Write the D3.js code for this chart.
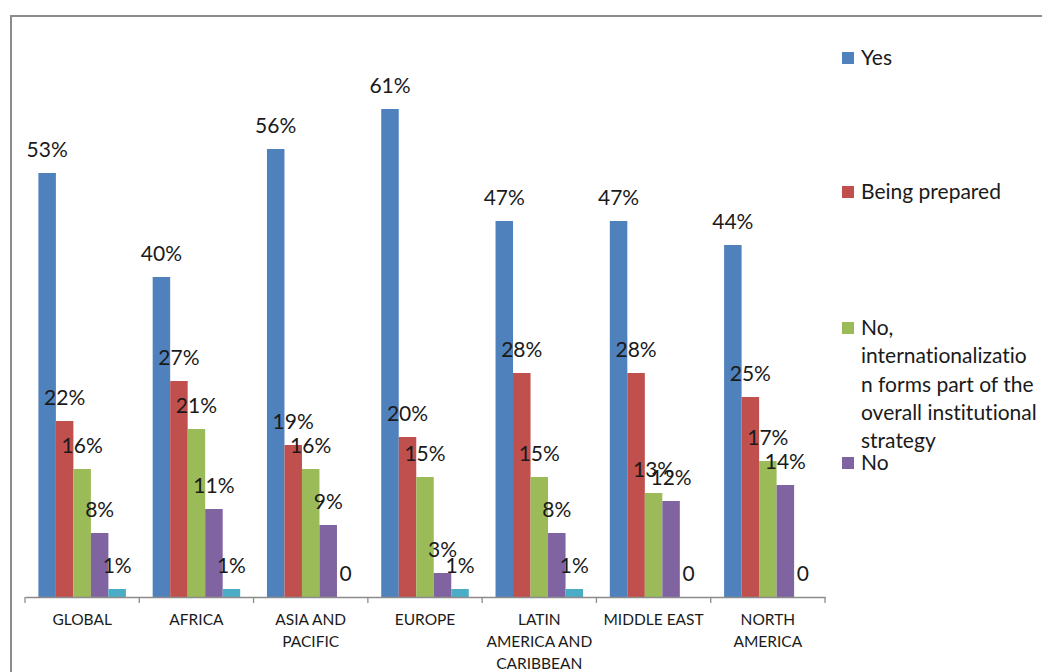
<!DOCTYPE html>
<html>
<head>
<meta charset="utf-8">
<script src="https://cdn.jsdelivr.net/npm/d3@7"></script>
<style>
  html, body { margin: 0; padding: 0; background: #fff; }
  svg { display: block; }
  text { font-family: Lato, "Open Sans", sans-serif; fill: #1a1a1a; font-variant-ligatures: none; font-feature-settings: "liga" 0; }
</style>
</head>
<body>
<svg id="chart" width="1042" height="672"></svg>
<script>
// Regions surveyed
const categories = [
  ["GLOBAL"],
  ["AFRICA"],
  ["ASIA AND", "PACIFIC"],
  ["EUROPE"],
  ["LATIN", "AMERICA AND", "CARIBBEAN"],
  ["MIDDLE EAST"],
  ["NORTH", "AMERICA"]
];

// Share of institutions (%) per answer
const yesValues      = [53, 40, 56, 61, 47, 47, 44];
const preparedValues = [22, 27, 19, 20, 28, 28, 25];
const partOfValues   = [16, 21, 16, 15, 15, 13, 17];
const noValues       = [8, 11, 9, 3, 8, 12, 14];
const otherValues    = [1, 1, 0, 1, 1, 0, 0];

// Printed value labels
const yesLabels      = ["53%", "40%", "56%", "61%", "47%", "47%", "44%"];
const preparedLabels = ["22%", "27%", "19%", "20%", "28%", "28%", "25%"];
const partOfLabels   = ["16%", "21%", "16%", "15%", "15%", "13%", "17%"];
const noLabels       = ["8%", "11%", "9%", "3%", "8%", "12%", "14%"];
const otherLabels    = ["1%", "1%", "0", "1%", "1%", "0", "0"];

// Legend entries (multi-line where wrapped)
const legendYes      = ["Yes"];
const legendPrepared = ["Being prepared"];
const legendPartOf   = ["No,", "internationalizatio", "n forms part of the", "overall institutional", "strategy"];
const legendNo       = ["No"];

const series = [
  { key: "yes",      values: yesValues,      labels: yesLabels,      color: "#4F81BD", legend: legendYes },
  { key: "prepared", values: preparedValues, labels: preparedLabels, color: "#C0504D", legend: legendPrepared },
  { key: "partOf",   values: partOfValues,   labels: partOfLabels,   color: "#9BBB59", legend: legendPartOf },
  { key: "no",       values: noValues,       labels: noLabels,       color: "#8064A2", legend: legendNo },
  { key: "other",    values: otherValues,    labels: otherLabels,    color: "#4BACC6", legend: null }
];

const svg = d3.select("#chart");

// Outer chart frame (only top and left edges fall inside the view)
svg.append("path")
  .attr("d", "M11,672 V16 H1042")
  .attr("fill", "none")
  .attr("stroke", "#8c8c8c")
  .attr("stroke-width", 2);

const plot = { left: 25, right: 825, top: 37, bottom: 597 };

const x0 = d3.scaleBand()
  .domain(d3.range(categories.length))
  .range([plot.left, plot.right])
  .paddingInner(0)
  .paddingOuter(0);

const x1 = d3.scaleBand()
  .domain(series.map(s => s.key))
  .range([0, x0.bandwidth()])
  .paddingOuter(0.765)
  .paddingInner(0);

const y = d3.scaleLinear()
  .domain([0, 70])
  .range([plot.bottom, plot.top]);

// Bars
const groups = svg.append("g").selectAll("g")
  .data(categories.map((c, i) => i))
  .join("g")
  .attr("transform", i => `translate(${x0(i)},0)`);

groups.selectAll("rect")
  .data(i => series.map(s => ({ key: s.key, v: s.values[i], color: s.color })))
  .join("rect")
  .attr("x", d => x1(d.key))
  .attr("width", x1.bandwidth())
  .attr("y", d => y(d.v))
  .attr("height", d => y(0) - y(d.v))
  .attr("fill", d => d.color);

// Value labels above each bar
groups.selectAll("text.val")
  .data(i => series.map(s => ({ key: s.key, v: s.values[i], label: s.labels[i] })))
  .join("text")
  .attr("class", "val")
  .attr("x", d => x1(d.key) + x1.bandwidth() / 2)
  .attr("y", d => y(d.v) - 16)
  .attr("text-anchor", "middle")
  .attr("font-size", 21)
  .text(d => d.label);

// Category axis
const axis = d3.axisBottom(x0)
  .tickSize(0)
  .tickFormat("");
const axisG = svg.append("g")
  .attr("transform", `translate(0,${plot.bottom})`)
  .call(axis);
axisG.select(".domain").attr("stroke", "#8c8c8c").attr("stroke-width", 1.3);

// Tick marks at category boundaries
const boundaries = d3.range(categories.length + 1).map(i => plot.left + i * x0.bandwidth());
axisG.selectAll("line.sep")
  .data(boundaries)
  .join("line")
  .attr("class", "sep")
  .attr("x1", d => d).attr("x2", d => d)
  .attr("y1", 0).attr("y2", 6)
  .attr("stroke", "#8c8c8c")
  .attr("stroke-width", 1.3);

// Category labels
const catLabels = svg.append("g").selectAll("text")
  .data(categories.map((c, i) => ({ lines: c, i })))
  .join("text")
  .attr("text-anchor", "middle")
  .attr("font-size", 15.5)
  .attr("x", d => x0(d.i) + x0.bandwidth() / 2);
catLabels.selectAll("tspan")
  .data(d => d.lines.map((l, k) => ({ l, k, x: x0(d.i) + x0.bandwidth() / 2 })))
  .join("tspan")
  .attr("x", d => d.x)
  .attr("y", d => 625 + d.k * 22)
  .text(d => d.l);

// Legend
const legendTops = { yes: 58, prepared: 192, partOf: 328, no: 463 };
const legend = svg.append("g");
series.filter(s => s.legend).forEach(s => {
  const cy = legendTops[s.key];
  legend.append("rect")
    .attr("x", 842).attr("y", cy - 6)
    .attr("width", 12).attr("height", 12)
    .attr("fill", s.color);
  const t = legend.append("text").attr("font-size", 21);
  s.legend.forEach((line, k) => {
    t.append("tspan")
      .attr("x", 861)
      .attr("y", cy + 7 + k * 28.3)
      .text(line);
  });
});
</script>
</body>
</html>
